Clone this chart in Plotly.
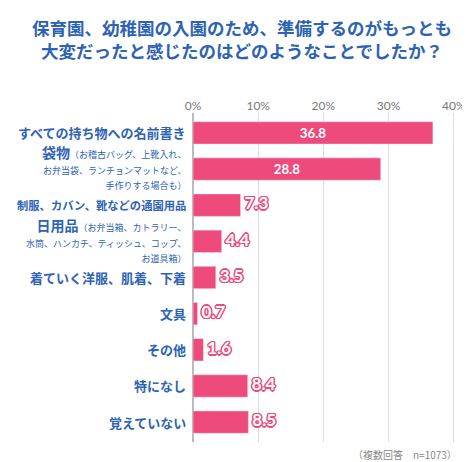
import plotly.graph_objects as go

categories = ["すべての持ち物への名前書き", "袋物", "制服、カバン、靴などの通園用品", "日用品",
              "着ていく洋服、肌着、下着", "文具", "その他", "特になし", "覚えていない"]
subnotes = ["", "（お稽古バッグ、上靴入れ、<br>お弁当袋、ランチョンマットなど、<br>手作りする場合も）", "",
            "（お弁当箱、カトラリー、<br>水筒、ハンカチ、ティッシュ、コップ、<br>お道具箱）", "", "", "", "", ""]
values = [36.8, 28.8, 7.3, 4.4, 3.5, 0.7, 1.6, 8.4, 8.5]
ticks = [0, 10, 20, 30, 40]

PINK = "#ef4a7c"
BLUE = "#2d63b5"
FONT = "Noto Sans CJK JP"

n = len(categories)
ys = list(range(n))
inside = [v > 20 for v in values]
sh = "1.5px 0 0 #ef4a7c, -1.5px 0 0 #ef4a7c, 0 1.5px 0 #ef4a7c, 0 -1.5px 0 #ef4a7c, 1px 1px 0 #ef4a7c, -1px -1px 0 #ef4a7c, 1px -1px 0 #ef4a7c, -1px 1px 0 #ef4a7c"

fig = go.Figure()
fig.add_trace(go.Bar(
    x=values, y=ys, orientation="h", marker_color=PINK, width=0.62,
    text=[f"<b>{v:.1f}</b>" if i else "" for v, i in zip(values, inside)],
    textposition="inside", insidetextanchor="middle",
    textfont=dict(color="white", size=17, family="Lato"),
    cliponaxis=False,
))
fig.add_trace(go.Scatter(
    x=[v + 0.6 for v, i in zip(values, inside) if not i],
    y=[y for y, i in zip(ys, inside) if not i],
    mode="text", text=[f"<b>{v:.1f}</b>" for v, i in zip(values, inside) if not i],
    textposition="middle right",
    textfont=dict(color="white", size=17, family="Lato", shadow=sh),
    cliponaxis=False, hoverinfo="skip",
))

for y, c, s in zip(ys, categories, subnotes):
    if s:
        lines = s.split("<br>")
        txt = f"<span style='font-size:14px'><b>{c}</b></span><span style='font-size:9px'>{lines[0]}</span><br>" + \
              "<br>".join(f"<span style='font-size:9px'>{l}</span>" for l in lines[1:])
        fig.add_annotation(x=0, y=y - 0.05, xref="x", yref="y", xshift=-5, text=txt,
                           showarrow=False, xanchor="right", yanchor="middle", align="right",
                           font=dict(color=BLUE, family=FONT))
    else:
        size = 11.3 if len(c) > 14 else 13
        fig.add_annotation(x=0, y=y, xref="x", yref="y", xshift=-5,
                           text=f"<b>{c}</b>", showarrow=False, xanchor="right", yanchor="middle",
                           font=dict(color=BLUE, family=FONT, size=size))

L, R = 185, 14
fig.add_annotation(x=(235 - L) / (470 - L - R), y=1, xref="paper", yref="paper", yshift=100,
                   xanchor="center", yanchor="top",
                   text="<b>保育園、幼稚園の入園のため、準備するのがもっとも<br>大変だったと感じたのはどのようなことでしたか？</b>",
                   showarrow=False, font=dict(color=BLUE, size=17.5, family=FONT))
fig.add_annotation(x=1, y=0, xref="paper", yref="paper", yshift=-12, xanchor="right", yanchor="middle",
                   text="（複数回答　n=1073）", showarrow=False, font=dict(color="#888", size=10, family=FONT))

fig.update_layout(
    width=470, height=462, margin=dict(l=L, r=R, t=105, b=28),
    paper_bgcolor="white", plot_bgcolor="white", showlegend=False,
    xaxis=dict(range=[0, 40.8], side="top", tickvals=ticks, ticktext=[f"{t}%" for t in ticks],
               tickfont=dict(color="#777", size=12, family="Lato"), gridcolor="#ddd", gridwidth=1,
               zeroline=True, zerolinecolor="#bbb", fixedrange=True, ticklen=0),
    yaxis=dict(range=[n - 0.45, -0.55], showticklabels=False, showgrid=False, fixedrange=True),
)
fig.write_html("out.html")
